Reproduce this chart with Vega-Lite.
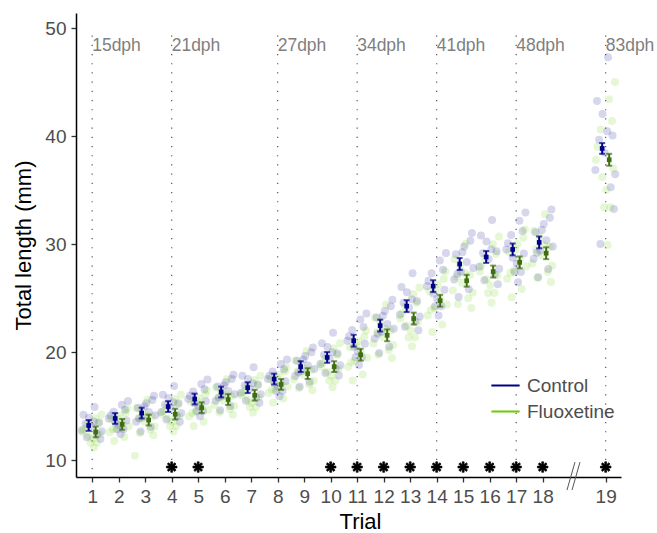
{
 "$schema": "https://vega.github.io/schema/vega-lite/v6.json",
 "width": 545, "height": 464,
 "autosize": {"type": "none"},
 "padding": {"left": 76, "top": 13, "right": 36, "bottom": 56},
 "background": "white",
 "config": {
  "view": {"stroke": null},
  "font": "Liberation Sans",
  "axis": {"domainColor": "black", "domainWidth": 1.5, "tickColor": "#333333", "tickWidth": 1.3, "tickSize": 5, "labelColor": "#4D4D4D", "labelFontSize": 19, "titleFontSize": 22, "titleColor": "black", "titleFontWeight": "normal", "grid": false}
 },
 "datasets": {
  "pts": [
   {"g":"C","t":0.88,"v":13.92},{"g":"C","t":1.31,"v":11.94},{"g":"C","t":0.75,"v":13.38},{"g":"C","t":1.09,"v":14.91},{"g":"C","t":1.36,"v":12.66},{"g":"C","t":0.96,"v":13.11},{"g":"C","t":0.67,"v":14.19},{"g":"C","t":1.19,"v":12.39},{"g":"C","t":1.06,"v":13.56},{"g":"C","t":0.8,"v":12.12},{"g":"C","t":1.26,"v":13.47},{"g":"C","t":0.61,"v":12.75},
   {"g":"F","t":0.69,"v":12.87},{"g":"F","t":1.12,"v":13.86},{"g":"F","t":0.94,"v":11.61},{"g":"F","t":1.29,"v":12.42},{"g":"F","t":0.81,"v":13.23},{"g":"F","t":1.07,"v":11.16},{"g":"F","t":1.24,"v":13.41},{"g":"F","t":0.63,"v":12.6},{"g":"F","t":1.02,"v":11.97},{"g":"F","t":1.35,"v":14.22},{"g":"F","t":0.87,"v":12.24},{"g":"F","t":1.18,"v":11.61},
   {"g":"C","t":1.69,"v":14.12},{"g":"C","t":2.12,"v":15.11},{"g":"C","t":1.94,"v":12.86},{"g":"C","t":2.29,"v":13.67},{"g":"C","t":1.81,"v":14.48},{"g":"C","t":2.07,"v":12.41},{"g":"C","t":2.24,"v":14.66},{"g":"C","t":1.63,"v":13.85},{"g":"C","t":2.02,"v":13.22},{"g":"C","t":2.35,"v":15.47},{"g":"C","t":1.87,"v":13.49},{"g":"C","t":2.18,"v":12.86},
   {"g":"F","t":2.21,"v":12.13},{"g":"F","t":1.73,"v":13.75},{"g":"F","t":2.33,"v":14.74},{"g":"F","t":1.91,"v":12.94},{"g":"F","t":2.04,"v":14.11},{"g":"F","t":1.66,"v":12.58},{"g":"F","t":2.14,"v":13.39},{"g":"F","t":2.27,"v":14.38},{"g":"F","t":1.83,"v":11.77},{"g":"F","t":1.97,"v":13.84},{"g":"F","t":2.38,"v":13.12},{"g":"F","t":1.78,"v":12.85},
   {"g":"C","t":3.21,"v":13.05},{"g":"C","t":2.73,"v":14.85},{"g":"C","t":3.33,"v":15.95},{"g":"C","t":2.91,"v":13.95},{"g":"C","t":3.04,"v":15.25},{"g":"C","t":2.66,"v":13.55},{"g":"C","t":3.14,"v":14.45},{"g":"C","t":3.27,"v":15.55},{"g":"C","t":2.83,"v":12.65},{"g":"C","t":2.97,"v":14.95},{"g":"C","t":3.38,"v":14.15},{"g":"C","t":2.78,"v":13.85},
   {"g":"F","t":2.88,"v":14.5},{"g":"F","t":3.31,"v":12.3},{"g":"F","t":2.75,"v":13.9},{"g":"F","t":3.09,"v":15.6},{"g":"F","t":3.36,"v":13.1},{"g":"F","t":2.96,"v":13.6},{"g":"F","t":2.67,"v":14.8},{"g":"F","t":3.19,"v":12.8},{"g":"F","t":3.06,"v":14.1},{"g":"F","t":2.8,"v":12.5},{"g":"F","t":3.26,"v":14.0},{"g":"F","t":2.61,"v":10.4},
   {"g":"C","t":3.88,"v":15.75},{"g":"C","t":4.31,"v":13.55},{"g":"C","t":3.75,"v":15.15},{"g":"C","t":4.09,"v":16.85},{"g":"C","t":4.36,"v":14.35},{"g":"C","t":3.96,"v":14.85},{"g":"C","t":3.67,"v":16.05},{"g":"C","t":4.19,"v":14.05},{"g":"C","t":4.06,"v":15.35},{"g":"C","t":3.8,"v":13.75},{"g":"C","t":4.26,"v":15.25},{"g":"C","t":3.61,"v":14.45},
   {"g":"F","t":3.69,"v":14.55},{"g":"F","t":4.12,"v":15.65},{"g":"F","t":3.94,"v":13.15},{"g":"F","t":4.29,"v":14.05},{"g":"F","t":3.81,"v":14.95},{"g":"F","t":4.07,"v":12.65},{"g":"F","t":4.24,"v":15.15},{"g":"F","t":3.63,"v":14.25},{"g":"F","t":4.02,"v":13.55},{"g":"F","t":4.35,"v":16.05},{"g":"F","t":3.87,"v":13.85},{"g":"F","t":4.18,"v":13.15},
   {"g":"C","t":4.69,"v":15.95},{"g":"C","t":5.12,"v":17.05},{"g":"C","t":4.94,"v":14.55},{"g":"C","t":5.29,"v":15.45},{"g":"C","t":4.81,"v":16.35},{"g":"C","t":5.07,"v":14.05},{"g":"C","t":5.24,"v":16.55},{"g":"C","t":4.63,"v":15.65},{"g":"C","t":5.02,"v":14.95},{"g":"C","t":5.35,"v":17.45},{"g":"C","t":4.87,"v":15.25},{"g":"C","t":5.18,"v":14.55},
   {"g":"F","t":5.21,"v":13.55},{"g":"F","t":4.73,"v":15.35},{"g":"F","t":5.33,"v":16.45},{"g":"F","t":4.91,"v":14.45},{"g":"F","t":5.04,"v":15.75},{"g":"F","t":4.66,"v":14.05},{"g":"F","t":5.14,"v":14.95},{"g":"F","t":5.27,"v":16.05},{"g":"F","t":4.83,"v":13.15},{"g":"F","t":4.97,"v":15.45},{"g":"F","t":5.38,"v":14.65},{"g":"F","t":4.78,"v":14.35},
   {"g":"C","t":6.21,"v":15.0},{"g":"C","t":5.73,"v":16.8},{"g":"C","t":6.33,"v":17.9},{"g":"C","t":5.91,"v":15.9},{"g":"C","t":6.04,"v":17.2},{"g":"C","t":5.66,"v":15.5},{"g":"C","t":6.14,"v":16.4},{"g":"C","t":6.27,"v":17.5},{"g":"C","t":5.83,"v":14.6},{"g":"C","t":5.97,"v":16.9},{"g":"C","t":6.38,"v":16.1},{"g":"C","t":5.78,"v":15.8},
   {"g":"F","t":5.88,"v":16.4},{"g":"F","t":6.31,"v":14.2},{"g":"F","t":5.75,"v":15.8},{"g":"F","t":6.09,"v":17.5},{"g":"F","t":6.36,"v":15.0},{"g":"F","t":5.96,"v":15.5},{"g":"F","t":5.67,"v":16.7},{"g":"F","t":6.19,"v":14.7},{"g":"F","t":6.06,"v":16.0},{"g":"F","t":5.8,"v":14.4},{"g":"F","t":6.26,"v":15.9},{"g":"F","t":5.61,"v":15.1},
   {"g":"C","t":6.88,"v":17.5},{"g":"C","t":7.31,"v":15.3},{"g":"C","t":6.75,"v":16.9},{"g":"C","t":7.09,"v":18.6},{"g":"C","t":7.36,"v":16.1},{"g":"C","t":6.96,"v":16.6},{"g":"C","t":6.67,"v":17.8},{"g":"C","t":7.19,"v":15.8},{"g":"C","t":7.06,"v":17.1},{"g":"C","t":6.8,"v":15.5},{"g":"C","t":7.26,"v":17.0},{"g":"C","t":6.61,"v":16.2},
   {"g":"F","t":6.69,"v":16.3},{"g":"F","t":7.12,"v":17.4},{"g":"F","t":6.94,"v":14.9},{"g":"F","t":7.29,"v":15.8},{"g":"F","t":6.81,"v":16.7},{"g":"F","t":7.07,"v":14.4},{"g":"F","t":7.24,"v":16.9},{"g":"F","t":6.63,"v":16.0},{"g":"F","t":7.02,"v":15.3},{"g":"F","t":7.35,"v":17.8},{"g":"F","t":6.87,"v":15.6},{"g":"F","t":7.18,"v":14.9},
   {"g":"C","t":7.69,"v":17.8},{"g":"C","t":8.12,"v":18.9},{"g":"C","t":7.94,"v":16.4},{"g":"C","t":8.29,"v":17.3},{"g":"C","t":7.81,"v":18.2},{"g":"C","t":8.07,"v":15.9},{"g":"C","t":8.24,"v":18.4},{"g":"C","t":7.63,"v":17.5},{"g":"C","t":8.02,"v":16.8},{"g":"C","t":8.35,"v":19.3},{"g":"C","t":7.87,"v":17.1},{"g":"C","t":8.18,"v":16.4},
   {"g":"F","t":8.21,"v":15.7},{"g":"F","t":7.73,"v":17.5},{"g":"F","t":8.33,"v":18.6},{"g":"F","t":7.91,"v":16.6},{"g":"F","t":8.04,"v":17.9},{"g":"F","t":7.66,"v":16.2},{"g":"F","t":8.14,"v":17.1},{"g":"F","t":8.27,"v":18.2},{"g":"F","t":7.83,"v":15.3},{"g":"F","t":7.97,"v":17.6},{"g":"F","t":8.38,"v":16.8},{"g":"F","t":7.78,"v":16.5},
   {"g":"C","t":9.21,"v":17.22},{"g":"C","t":8.73,"v":19.2},{"g":"C","t":9.33,"v":20.41},{"g":"C","t":8.91,"v":18.21},{"g":"C","t":9.04,"v":19.64},{"g":"C","t":8.66,"v":17.77},{"g":"C","t":9.14,"v":18.76},{"g":"C","t":9.27,"v":19.97},{"g":"C","t":8.83,"v":16.78},{"g":"C","t":8.97,"v":19.31},{"g":"C","t":9.38,"v":18.43},{"g":"C","t":8.78,"v":18.1},
   {"g":"F","t":8.88,"v":18.88},{"g":"F","t":9.31,"v":16.46},{"g":"F","t":8.75,"v":18.22},{"g":"F","t":9.09,"v":20.09},{"g":"F","t":9.36,"v":17.34},{"g":"F","t":8.96,"v":17.89},{"g":"F","t":8.67,"v":19.21},{"g":"F","t":9.19,"v":17.01},{"g":"F","t":9.06,"v":18.44},{"g":"F","t":8.8,"v":16.68},{"g":"F","t":9.26,"v":18.33},{"g":"F","t":8.61,"v":17.45},
   {"g":"C","t":9.88,"v":20.46},{"g":"C","t":10.31,"v":17.82},{"g":"C","t":9.75,"v":19.74},{"g":"C","t":10.09,"v":21.78},{"g":"C","t":10.36,"v":18.78},{"g":"C","t":9.96,"v":19.38},{"g":"C","t":9.67,"v":20.82},{"g":"C","t":10.19,"v":18.42},{"g":"C","t":10.06,"v":19.98},{"g":"C","t":9.8,"v":18.06},{"g":"C","t":10.26,"v":19.86},{"g":"C","t":9.61,"v":18.9},
   {"g":"F","t":9.69,"v":19.01},{"g":"F","t":10.12,"v":20.33},{"g":"F","t":9.94,"v":17.33},{"g":"F","t":10.29,"v":18.41},{"g":"F","t":9.81,"v":19.49},{"g":"F","t":10.07,"v":16.73},{"g":"F","t":10.24,"v":19.73},{"g":"F","t":9.63,"v":18.65},{"g":"F","t":10.02,"v":17.81},{"g":"F","t":10.35,"v":20.81},{"g":"F","t":9.87,"v":18.17},{"g":"F","t":10.18,"v":17.33},
   {"g":"C","t":10.69,"v":21.47},{"g":"C","t":11.12,"v":23.01},{"g":"C","t":10.94,"v":19.51},{"g":"C","t":11.29,"v":20.77},{"g":"C","t":10.81,"v":22.03},{"g":"C","t":11.07,"v":18.81},{"g":"C","t":11.24,"v":22.31},{"g":"C","t":10.63,"v":21.05},{"g":"C","t":11.02,"v":20.07},{"g":"C","t":11.35,"v":23.57},{"g":"C","t":10.87,"v":20.49},{"g":"C","t":11.18,"v":19.51},
   {"g":"F","t":11.21,"v":17.93},{"g":"F","t":10.73,"v":20.45},{"g":"F","t":11.33,"v":21.99},{"g":"F","t":10.91,"v":19.19},{"g":"F","t":11.04,"v":21.01},{"g":"F","t":10.66,"v":18.63},{"g":"F","t":11.14,"v":19.89},{"g":"F","t":11.27,"v":21.43},{"g":"F","t":10.83,"v":17.37},{"g":"F","t":10.97,"v":20.59},{"g":"F","t":11.38,"v":19.47},{"g":"F","t":10.78,"v":19.05},
   {"g":"C","t":12.21,"v":20.5},{"g":"C","t":11.73,"v":23.2},{"g":"C","t":12.33,"v":24.85},{"g":"C","t":11.91,"v":21.85},{"g":"C","t":12.04,"v":23.8},{"g":"C","t":11.66,"v":21.25},{"g":"C","t":12.14,"v":22.6},{"g":"C","t":12.27,"v":24.25},{"g":"C","t":11.83,"v":19.9},{"g":"C","t":11.97,"v":23.35},{"g":"C","t":12.38,"v":22.15},{"g":"C","t":11.78,"v":21.7},
   {"g":"F","t":11.88,"v":22.75},{"g":"F","t":12.31,"v":19.45},{"g":"F","t":11.75,"v":21.85},{"g":"F","t":12.09,"v":24.4},{"g":"F","t":12.36,"v":20.65},{"g":"F","t":11.96,"v":21.4},{"g":"F","t":11.67,"v":23.2},{"g":"F","t":12.19,"v":20.2},{"g":"F","t":12.06,"v":22.15},{"g":"F","t":11.8,"v":19.75},{"g":"F","t":12.26,"v":22.0},{"g":"F","t":11.61,"v":20.8},
   {"g":"C","t":12.88,"v":25.53},{"g":"C","t":13.31,"v":22.01},{"g":"C","t":12.75,"v":24.57},{"g":"C","t":13.09,"v":27.29},{"g":"C","t":13.36,"v":23.29},{"g":"C","t":12.96,"v":24.09},{"g":"C","t":12.67,"v":26.01},{"g":"C","t":13.19,"v":22.81},{"g":"C","t":13.06,"v":24.89},{"g":"C","t":12.8,"v":22.33},{"g":"C","t":13.26,"v":24.73},{"g":"C","t":12.61,"v":23.45},
   {"g":"F","t":12.69,"v":23.58},{"g":"F","t":13.12,"v":25.34},{"g":"F","t":12.94,"v":21.34},{"g":"F","t":13.29,"v":22.78},{"g":"F","t":12.81,"v":24.22},{"g":"F","t":13.07,"v":20.54},{"g":"F","t":13.24,"v":24.54},{"g":"F","t":12.63,"v":23.1},{"g":"F","t":13.02,"v":21.98},{"g":"F","t":13.35,"v":25.98},{"g":"F","t":12.87,"v":22.46},{"g":"F","t":13.18,"v":21.34},
   {"g":"C","t":13.69,"v":26.61},{"g":"C","t":14.12,"v":28.48},{"g":"C","t":13.94,"v":24.23},{"g":"C","t":14.29,"v":25.76},{"g":"C","t":13.81,"v":27.29},{"g":"C","t":14.07,"v":23.38},{"g":"C","t":14.24,"v":27.63},{"g":"C","t":13.63,"v":26.1},{"g":"C","t":14.02,"v":24.91},{"g":"C","t":14.35,"v":29.16},{"g":"C","t":13.87,"v":25.42},{"g":"C","t":14.18,"v":24.23},
   {"g":"F","t":14.21,"v":22.54},{"g":"F","t":13.73,"v":25.6},{"g":"F","t":14.33,"v":27.47},{"g":"F","t":13.91,"v":24.07},{"g":"F","t":14.04,"v":26.28},{"g":"F","t":13.66,"v":23.39},{"g":"F","t":14.14,"v":24.92},{"g":"F","t":14.27,"v":26.79},{"g":"F","t":13.83,"v":21.86},{"g":"F","t":13.97,"v":25.77},{"g":"F","t":14.38,"v":24.41},{"g":"F","t":13.78,"v":23.9},
   {"g":"C","t":15.21,"v":25.81},{"g":"C","t":14.73,"v":29.05},{"g":"C","t":15.33,"v":31.03},{"g":"C","t":14.91,"v":27.43},{"g":"C","t":15.04,"v":29.77},{"g":"C","t":14.66,"v":26.71},{"g":"C","t":15.14,"v":28.33},{"g":"C","t":15.27,"v":30.31},{"g":"C","t":14.83,"v":25.09},{"g":"C","t":14.97,"v":29.23},{"g":"C","t":15.38,"v":27.79},{"g":"C","t":14.78,"v":27.25},
   {"g":"F","t":14.88,"v":28.04},{"g":"F","t":15.31,"v":24.08},{"g":"F","t":14.75,"v":26.96},{"g":"F","t":15.09,"v":30.02},{"g":"F","t":15.36,"v":25.52},{"g":"F","t":14.96,"v":26.42},{"g":"F","t":14.67,"v":28.58},{"g":"F","t":15.19,"v":24.98},{"g":"F","t":15.06,"v":27.32},{"g":"F","t":14.8,"v":24.44},{"g":"F","t":15.26,"v":27.14},{"g":"F","t":14.61,"v":25.7},
   {"g":"C","t":15.88,"v":30.24},{"g":"C","t":16.31,"v":26.28},{"g":"C","t":15.75,"v":29.16},{"g":"C","t":16.09,"v":32.22},{"g":"C","t":16.36,"v":27.72},{"g":"C","t":15.96,"v":28.62},{"g":"C","t":15.67,"v":30.78},{"g":"C","t":16.19,"v":27.18},{"g":"C","t":16.06,"v":29.52},{"g":"C","t":15.8,"v":26.64},{"g":"C","t":16.26,"v":29.34},{"g":"C","t":15.61,"v":27.9},
   {"g":"F","t":15.69,"v":27.99},{"g":"F","t":16.12,"v":29.97},{"g":"F","t":15.94,"v":25.47},{"g":"F","t":16.29,"v":27.09},{"g":"F","t":15.81,"v":28.71},{"g":"F","t":16.07,"v":24.57},{"g":"F","t":16.24,"v":29.07},{"g":"F","t":15.63,"v":27.45},{"g":"F","t":16.02,"v":26.19},{"g":"F","t":16.35,"v":30.69},{"g":"F","t":15.87,"v":26.73},{"g":"F","t":16.18,"v":25.47},
   {"g":"C","t":16.69,"v":30.07},{"g":"C","t":17.12,"v":32.16},{"g":"C","t":16.94,"v":27.41},{"g":"C","t":17.29,"v":29.12},{"g":"C","t":16.81,"v":30.83},{"g":"C","t":17.07,"v":26.46},{"g":"C","t":17.24,"v":31.21},{"g":"C","t":16.63,"v":29.5},{"g":"C","t":17.02,"v":28.17},{"g":"C","t":17.35,"v":32.92},{"g":"C","t":16.87,"v":28.74},{"g":"C","t":17.18,"v":27.41},
   {"g":"F","t":17.21,"v":25.83},{"g":"F","t":16.73,"v":29.25},{"g":"F","t":17.33,"v":31.34},{"g":"F","t":16.91,"v":27.54},{"g":"F","t":17.04,"v":30.01},{"g":"F","t":16.66,"v":26.78},{"g":"F","t":17.14,"v":28.49},{"g":"F","t":17.27,"v":30.58},{"g":"F","t":16.83,"v":25.07},{"g":"F","t":16.97,"v":29.44},{"g":"F","t":17.38,"v":27.92},{"g":"F","t":16.78,"v":27.35},
   {"g":"C","t":18.21,"v":27.68},{"g":"C","t":17.73,"v":31.1},{"g":"C","t":18.33,"v":33.19},{"g":"C","t":17.91,"v":29.39},{"g":"C","t":18.04,"v":31.86},{"g":"C","t":17.66,"v":28.63},{"g":"C","t":18.14,"v":30.34},{"g":"C","t":18.27,"v":32.43},{"g":"C","t":17.83,"v":26.92},{"g":"C","t":17.97,"v":31.29},{"g":"C","t":18.38,"v":29.77},{"g":"C","t":17.78,"v":29.2},
   {"g":"F","t":17.88,"v":30.67},{"g":"F","t":18.31,"v":26.49},{"g":"F","t":17.75,"v":29.53},{"g":"F","t":18.09,"v":32.76},{"g":"F","t":18.36,"v":28.01},{"g":"F","t":17.96,"v":28.96},{"g":"F","t":17.67,"v":31.24},{"g":"F","t":18.19,"v":27.44},{"g":"F","t":18.06,"v":29.91},{"g":"F","t":17.8,"v":26.87},{"g":"F","t":18.26,"v":29.72},{"g":"F","t":17.61,"v":28.2},
   {"g":"C","t":18.88,"v":42.05},{"g":"C","t":19.31,"v":33.25},{"g":"C","t":18.75,"v":39.65},{"g":"C","t":19.09,"v":47.3},{"g":"C","t":19.36,"v":36.45},{"g":"C","t":18.96,"v":38.45},{"g":"C","t":18.67,"v":43.25},{"g":"C","t":19.19,"v":35.25},{"g":"C","t":19.06,"v":40.45},{"g":"C","t":18.8,"v":30.0},{"g":"C","t":19.26,"v":40.05},{"g":"C","t":18.61,"v":36.85},
   {"g":"F","t":18.69,"v":39.0},{"g":"F","t":19.12,"v":43.4},{"g":"F","t":18.94,"v":33.4},{"g":"F","t":19.29,"v":37.0},{"g":"F","t":18.81,"v":40.6},{"g":"F","t":19.07,"v":29.9},{"g":"F","t":19.24,"v":41.4},{"g":"F","t":18.63,"v":37.8},{"g":"F","t":19.02,"v":35.0},{"g":"F","t":19.35,"v":45.0},{"g":"F","t":18.87,"v":36.2},{"g":"F","t":19.18,"v":33.4}
  ],
  "sum": [
   {"t":1,"g":"C","m":13.2,"lo":12.7,"hi":13.7},{"t":2,"g":"C","m":13.85,"lo":13.35,"hi":14.35},{"t":3,"g":"C","m":14.35,"lo":13.85,"hi":14.85},{"t":4,"g":"C","m":14.95,"lo":14.45,"hi":15.45},{"t":5,"g":"C","m":15.65,"lo":15.15,"hi":16.15},{"t":6,"g":"C","m":16.3,"lo":15.8,"hi":16.8},{"t":7,"g":"C","m":16.7,"lo":16.2,"hi":17.2},{"t":8,"g":"C","m":17.5,"lo":17.0,"hi":18.0},{"t":9,"g":"C","m":18.65,"lo":18.15,"hi":19.15},{"t":10,"g":"C","m":19.5,"lo":19.0,"hi":20.0},{"t":11,"g":"C","m":21.05,"lo":20.5,"hi":21.6},{"t":12,"g":"C","m":22.45,"lo":21.9,"hi":23.0},{"t":13,"g":"C","m":24.25,"lo":23.7,"hi":24.8},{"t":14,"g":"C","m":26.1,"lo":25.55,"hi":26.65},{"t":15,"g":"C","m":28.15,"lo":27.6,"hi":28.7},{"t":16,"g":"C","m":28.8,"lo":28.25,"hi":29.35},{"t":17,"g":"C","m":29.5,"lo":28.95,"hi":30.05},{"t":18,"g":"C","m":30.15,"lo":29.6,"hi":30.7},{"t":19,"g":"C","m":38.85,"lo":38.35,"hi":39.35},
   {"t":1,"g":"F","m":12.6,"lo":12.1,"hi":13.1},{"t":2,"g":"F","m":13.3,"lo":12.8,"hi":13.8},{"t":3,"g":"F","m":13.7,"lo":13.2,"hi":14.2},{"t":4,"g":"F","m":14.25,"lo":13.75,"hi":14.75},{"t":5,"g":"F","m":14.85,"lo":14.35,"hi":15.35},{"t":6,"g":"F","m":15.6,"lo":15.1,"hi":16.1},{"t":7,"g":"F","m":16.0,"lo":15.5,"hi":16.5},{"t":8,"g":"F","m":17.0,"lo":16.5,"hi":17.5},{"t":9,"g":"F","m":18.0,"lo":17.5,"hi":18.5},{"t":10,"g":"F","m":18.65,"lo":18.15,"hi":19.15},{"t":11,"g":"F","m":19.75,"lo":19.2,"hi":20.3},{"t":12,"g":"F","m":21.55,"lo":21.0,"hi":22.1},{"t":13,"g":"F","m":23.1,"lo":22.55,"hi":23.65},{"t":14,"g":"F","m":24.75,"lo":24.2,"hi":25.3},{"t":15,"g":"F","m":26.6,"lo":26.05,"hi":27.15},{"t":16,"g":"F","m":27.45,"lo":26.9,"hi":28.0},{"t":17,"g":"F","m":28.3,"lo":27.75,"hi":28.85},{"t":18,"g":"F","m":29.15,"lo":28.6,"hi":29.7},{"t":19,"g":"F","m":37.8,"lo":37.25,"hi":38.35}
  ],
  "vl": [
   {"t":1,"lab":"15dph"},{"t":4,"lab":"21dph"},{"t":8,"lab":"27dph"},{"t":11,"lab":"34dph"},{"t":14,"lab":"41dph"},{"t":17,"lab":"48dph"},{"t":19,"lab":"83dph"}
  ],
  "ast": [{"t":4},{"t":5},{"t":10},{"t":11},{"t":12},{"t":13},{"t":14},{"t":15},{"t":16},{"t":17},{"t":18},{"t":19}],
  "brk": [{"x1":18.4816,"x2":18.502,"y1":7.22,"y2":9.81},{"x1":18.4944,"x2":18.5148,"y1":7.22,"y2":9.81}]
 },
 "layer": [
  {
   "data": {"name": "vl"},
   "mark": {"type": "rule", "color": "#555555", "strokeWidth": 1.2, "strokeDash": [1.2, 8]},
   "encoding": {
    "x": {"field": "t", "type": "quantitative", "title": "Trial",
     "scale": {"domain": [0.39, 18.45, 18.55, 19.58], "range": [0, 478.6, 517.8, 545], "nice": false, "zero": false},
     "axis": {"values": [1,2,3,4,5,6,7,8,9,10,11,12,13,14,15,16,17,18,19], "tickCount": 40, "format": "d", "labelPadding": 5, "titlePadding": 5, "labelFlush": false, "labelOverlap": false, "titleX": 284}},
    "y": {"datum": 49.3, "type": "quantitative",
     "scale": {"domain": [8.43, 51.39], "nice": false, "zero": false},
     "axis": {"values": [10,20,30,40,50], "tickCount": 10, "title": "Total length (mm)", "labelPadding": 5, "titlePadding": 9}},
    "y2": {"datum": 8.43}
   }
  },
  {
   "data": {"name": "pts"},
   "mark": {"type": "circle", "opacity": 0.16, "size": 64},
   "encoding": {
    "x": {"field": "t", "type": "quantitative"},
    "y": {"field": "v", "type": "quantitative"},
    "color": {"field": "g", "type": "nominal",
     "scale": {"domain": ["C", "F"], "range": ["#00008B", "#66CD00"]},
     "legend": {"title": null, "orient": "none", "legendX": 414, "legendY": 357, "padding": 0,
      "labelExpr": "datum.label == 'C' ? 'Control' : 'Fluoxetine'",
      "labelFontSize": 19, "labelColor": "#4D4D4D", "labelOffset": 6,
      "symbolType": "stroke", "symbolSize": 800, "symbolStrokeWidth": 2, "symbolOpacity": 1, "rowPadding": 0,
      "encode": {"symbols": {"update": {"stroke": {"scale": "color", "field": "value"}, "strokeWidth": {"value": 2}, "opacity": {"value": 1}}}}}}
   }
  },
  {
   "data": {"name": "sum"},
   "transform": [{"filter": "datum.g == 'C'"}],
   "layer": [
    {"mark": {"type": "rule", "color": "#00008B", "strokeWidth": 2, "xOffset": -3.5},
     "encoding": {"x": {"field": "t", "type": "quantitative"}, "y": {"field": "lo", "type": "quantitative"}, "y2": {"field": "hi"}}},
    {"mark": {"type": "tick", "orient": "horizontal", "color": "#00008B", "size": 6, "thickness": 2, "xOffset": -3.5},
     "encoding": {"x": {"field": "t", "type": "quantitative"}, "y": {"field": "lo", "type": "quantitative"}}},
    {"mark": {"type": "tick", "orient": "horizontal", "color": "#00008B", "size": 6, "thickness": 2, "xOffset": -3.5},
     "encoding": {"x": {"field": "t", "type": "quantitative"}, "y": {"field": "hi", "type": "quantitative"}}},
    {"mark": {"type": "square", "color": "#00008B", "size": 22, "opacity": 1, "xOffset": -3.5},
     "encoding": {"x": {"field": "t", "type": "quantitative"}, "y": {"field": "m", "type": "quantitative"}}}
   ]
  },
  {
   "data": {"name": "sum"},
   "transform": [{"filter": "datum.g == 'F'"}],
   "layer": [
    {"mark": {"type": "rule", "color": "#3F6E10", "strokeWidth": 2, "xOffset": 3.5},
     "encoding": {"x": {"field": "t", "type": "quantitative"}, "y": {"field": "lo", "type": "quantitative"}, "y2": {"field": "hi"}}},
    {"mark": {"type": "tick", "orient": "horizontal", "color": "#3F6E10", "size": 6, "thickness": 2, "xOffset": 3.5},
     "encoding": {"x": {"field": "t", "type": "quantitative"}, "y": {"field": "lo", "type": "quantitative"}}},
    {"mark": {"type": "tick", "orient": "horizontal", "color": "#3F6E10", "size": 6, "thickness": 2, "xOffset": 3.5},
     "encoding": {"x": {"field": "t", "type": "quantitative"}, "y": {"field": "hi", "type": "quantitative"}}},
    {"mark": {"type": "square", "color": "#3F6E10", "size": 22, "opacity": 1, "xOffset": 3.5},
     "encoding": {"x": {"field": "t", "type": "quantitative"}, "y": {"field": "m", "type": "quantitative"}}}
   ]
  },
  {
   "data": {"name": "vl"},
   "mark": {"type": "text", "align": "left", "baseline": "middle", "fontSize": 17.5, "color": "#7F7F7F", "dx": 0},
   "encoding": {"x": {"field": "t", "type": "quantitative"}, "y": {"datum": 48.3, "type": "quantitative"}, "text": {"field": "lab"}}
  },
  {
   "data": {"name": "ast"},
   "mark": {"type": "point", "filled": true, "opacity": 1, "color": "black", "size": 110, "stroke": "black", "strokeWidth": 0.7, "strokeJoin": "round",
    "shape": "M-0.18,-1H0.18V1H-0.18Z M-1,-0.18H1V0.18H-1Z M0.58,-0.834L0.834,-0.58L-0.58,0.834L-0.834,0.58Z M-0.58,-0.834L0.834,0.58L0.58,0.834L-0.834,-0.58Z"},
   "encoding": {"x": {"field": "t", "type": "quantitative"}, "y": {"datum": 9.35, "type": "quantitative"}}
  },
  {
   "data": {"name": "brk"},
   "mark": {"type": "rule", "color": "#555555", "strokeWidth": 1},
   "encoding": {"x": {"field": "x1", "type": "quantitative"}, "x2": {"field": "x2"}, "y": {"field": "y1", "type": "quantitative"}, "y2": {"field": "y2"}}
  }
 ]
}
